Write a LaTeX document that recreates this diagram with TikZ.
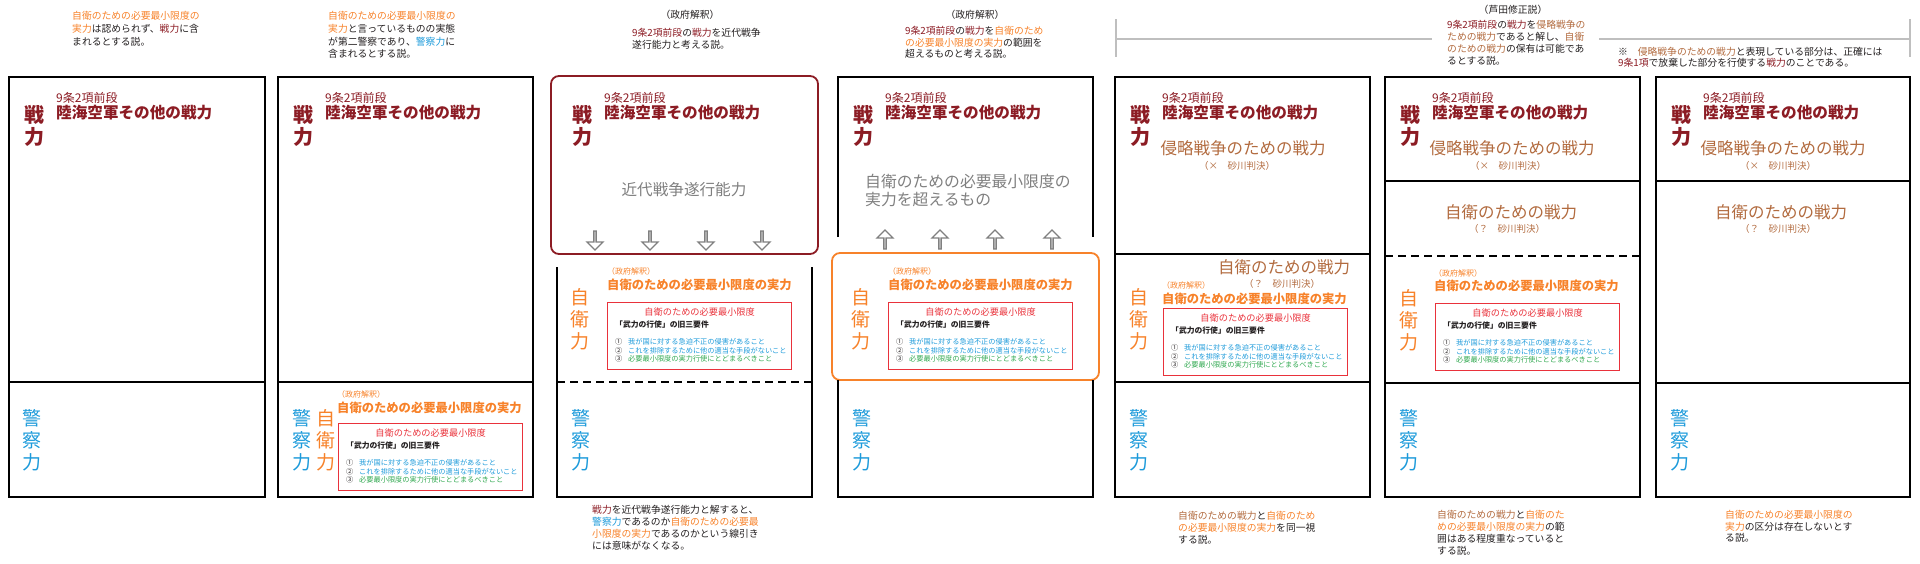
\documentclass[tikz,border=0pt]{standalone}
\usepackage{fontspec}
\setmainfont{Noto Sans CJK JP}
\usetikzlibrary{shapes.arrows}
\definecolor{ink}{HTML}{231F20}
\definecolor{senryoku}{HTML}{8C1C24}
\definecolor{jiei}{HTML}{F7822A}
\definecolor{shinryaku}{HTML}{B26B3F}
\definecolor{keisatsu}{HTML}{1C9ADA}
\definecolor{yoken}{HTML}{E9323B}
\definecolor{itemgreen}{HTML}{2FA84F}
\definecolor{memogray}{HTML}{7F7F7F}
\definecolor{arrowgray}{HTML}{808080}
\definecolor{bracketgray}{HTML}{BFBFBF}

% box with the old three requirements
\newcommand{\reqbox}[3]{%
  \node[reqframe] (#1) at (#2,#3) {};
  \node[reqtitle] (#1-t) at ([yshift=-9.5pt]#1.north) {自衛のための必要最小限度};
  \node[reqhead] (#1-h) at ([xshift=8pt,yshift=-22.5pt]#1.north west) {「武力の行使」の旧三要件};
  \node[reqitem] (#1-i) at ([xshift=8pt,yshift=-36.4pt]#1.north west) {①\hspace{5.8pt}\textcolor{keisatsu}{我が国に対する急迫不正の侵害があること}\\②\hspace{5.8pt}\textcolor{keisatsu}{これを排除するために他の適当な手段がないこと}\\③\hspace{5.8pt}\textcolor{itemgreen}{必要最小限度の実力行使にとどまるべきこと}};
}

\begin{document}
\begin{tikzpicture}[x=1pt, y=-1pt, panel/.style = {draw=black, line width=2pt}, dashdiv/.style = {draw=black, line width=2pt, dash pattern=on 8pt off 5pt}, desc/.style = {inner sep=0pt, anchor=north west, align=left, text=ink, font=\fontsize{9.8}{12}\selectfont}, deschead/.style = {inner sep=0pt, text=ink, font=\fontsize{9.8}{12}\selectfont}, art/.style = {inner sep=0pt, anchor=west, text=senryoku, font=\fontsize{12}{14}\selectfont}, rikkai/.style = {inner sep=0pt, anchor=west, text=senryoku, font=\bfseries\fontsize{15.6}{18}\selectfont}, bigred/.style = {inner sep=0pt, anchor=north, align=center, text=senryoku, font=\bfseries\fontsize{20}{22}\selectfont}, vblue/.style = {inner sep=0pt, anchor=north, align=center, text=keisatsu, font=\fontsize{19}{22}\selectfont}, vorange/.style = {inner sep=0pt, anchor=north, align=center, text=jiei, font=\fontsize{19}{22}\selectfont}, kind/.style = {inner sep=0pt, text=shinryaku, font=\fontsize{16.5}{18}\selectfont}, hanketsu/.style = {inner sep=0pt, text=shinryaku, font=\fontsize{9.5}{11}\selectfont}, gov/.style = {inner sep=0pt, anchor=west, text=jiei, font=\fontsize{8}{9}\selectfont}, jlabel/.style = {inner sep=0pt, anchor=west, text=jiei, font=\bfseries\fontsize{12.3}{14}\selectfont}, memo/.style = {inner sep=0pt, text=memogray, font=\fontsize{15.6}{18}\selectfont}, hollow/.style = {single arrow, draw=arrowgray, fill=white, line width=1.3pt, minimum height=19pt, minimum width=16pt, single arrow head extend=4pt, inner sep=0pt}, reqframe/.style = {draw=yoken, line width=1.3pt, anchor=north west, minimum width=184pt, minimum height=67pt, inner sep=0pt}, reqtitle/.style = {inner sep=0pt, text=yoken, font=\fontsize{9.2}{11}\selectfont}, reqhead/.style = {inner sep=0pt, anchor=west, text=ink, font=\bfseries\fontsize{7.8}{9}\selectfont}, reqitem/.style = {inner sep=0pt, anchor=north west, align=left, text=ink, font=\fontsize{7.2}{8.5}\selectfont}, bracketline/.style = {draw=bracketgray, line width=1.5pt}]
	\useasboundingbox (0,0) rectangle (1920,563);
	% panels
	\draw[panel] (9,77) rectangle (265,497) (9,382) -- (265,382);
	\draw[panel] (278,77) rectangle (533,497) (278,382) -- (533,382);
	\draw[senryoku, line width=1.8pt, rounded corners=8pt] (551,76) rectangle (818,254);
	\draw[panel] (557,267) -- (557,497) -- (812,497) -- (812,267);
	\draw[dashdiv] (557,382) -- (812,382);
	\draw[panel] (838,237) -- (838,77) -- (1093,77) -- (1093,237);
	\draw[jiei, line width=1.8pt, rounded corners=8pt] (832,253) rectangle (1099,380);
	\draw[panel] (838,380) -- (838,497) -- (1093,497) -- (1093,380);
	\draw[panel] (1115,77) rectangle (1370,497) (1115,254) -- (1370,254) (1115,382) -- (1370,382);
	\draw[panel] (1385,77) rectangle (1640,497) (1385,181) -- (1640,181) (1385,383) -- (1640,383);
	\draw[dashdiv] (1385,256) -- (1640,256);
	\draw[panel] (1656,77) rectangle (1910,497) (1656,181) -- (1910,181) (1656,383) -- (1910,383);
	% headings in every panel
	\foreach \n/\lx in {1/9, 2/278, 3/557, 4/838, 5/1115, 6/1385, 7/1656} {
		\node[art] (art\n) at (\lx+47,98) {9条2項前段};
		\node[rikkai] (rk\n) at (\lx+47,113) {陸海空軍その他の戦力};
		\node[bigred] (sr\n) at (\lx+25,105) {戦\\力};
		\node[vblue] (ks\n) at (\lx+23.5,409) {警\\察\\力};
	}
	% self-defence labels
	\node[vorange] (jr2) at (326,409) {自\\衛\\力};
	\node[vorange] (jr3) at (580,288) {自\\衛\\力};
	\node[vorange] (jr4) at (861,288) {自\\衛\\力};
	\node[vorange] (jr5) at (1139,288) {自\\衛\\力};
	\node[vorange] (jr6) at (1409,289) {自\\衛\\力};
	\node[gov] (gov2) at (337,394) {（政府解釈）};
	\node[jlabel] (jl2) at (337,408) {自衛のための必要最小限度の実力};
	\reqbox{req2}{338}{423}
	\node[gov] (gov3) at (607,271) {（政府解釈）};
	\node[jlabel] (jl3) at (607,285) {自衛のための必要最小限度の実力};
	\reqbox{req3}{607}{302}
	\node[gov] (gov4) at (888,271) {（政府解釈）};
	\node[jlabel] (jl4) at (888,285) {自衛のための必要最小限度の実力};
	\reqbox{req4}{888}{302}
	\node[gov] (gov5) at (1162,285) {（政府解釈）};
	\node[jlabel] (jl5) at (1162,299) {自衛のための必要最小限度の実力};
	\reqbox{req5}{1163}{308}
	\node[gov] (gov6) at (1434,273) {（政府解釈）};
	\node[jlabel] (jl6) at (1434,286) {自衛のための必要最小限度の実力};
	\reqbox{req6}{1435}{303}
	% war potential, panels 3 and 4
	\node[memo] (kindai) at (684,190) {近代戦争遂行能力};
	\node[memo, anchor=north west, align=left, font=\fontsize{15.8}{18}\selectfont] (koeru) at (865,174) {自衛のための必要最小限度の\\実力を超えるもの};
	\foreach \i/\ax in {1/595, 2/650, 3/706, 4/762} {
		\node[hollow, shape border rotate=270] (dn\i) at (\ax,240) {};
	}
	\foreach \i/\ax in {1/885, 2/940, 3/995, 4/1052} {
		\node[hollow, shape border rotate=90] (up\i) at (\ax,240) {};
	}
	% war potential, panels 5 to 7
	\node[kind] (sr5a) at (1243,148) {侵略戦争のための戦力};
	\node[hanketsu] (hk5a) at (1237,166) {（×　砂川判決）};
	\node[kind] (sr5b) at (1284,267) {自衛のための戦力};
	\node[hanketsu] (hk5b) at (1282,284) {（？　砂川判決）};
	\node[kind] (sr6a) at (1512,148) {侵略戦争のための戦力};
	\node[hanketsu] (hk6a) at (1508,166) {（×　砂川判決）};
	\node[kind] (sr6b) at (1511,212) {自衛のための戦力};
	\node[hanketsu] (hk6b) at (1507,229) {（？　砂川判決）};
	\node[kind] (sr7a) at (1783,148) {侵略戦争のための戦力};
	\node[hanketsu] (hk7a) at (1778,166) {（×　砂川判決）};
	\node[kind] (sr7b) at (1781,212) {自衛のための戦力};
	\node[hanketsu] (hk7b) at (1778,229) {（？　砂川判決）};
	% descriptions above
	\node[desc, font=\fontsize{9.8}{12.8}\selectfont] (t1) at (72,11) {\textcolor{jiei}{自衛のための必要最小限度の}\\\textcolor{jiei}{実力}は認められず、\textcolor{senryoku}{戦力}に含\\まれるとする説。};
	\node[desc, font=\fontsize{9.8}{12.8}\selectfont] (t2) at (328,11) {\textcolor{jiei}{自衛のための必要最小限度の}\\\textcolor{jiei}{実力}と言っているものの実態\\が第二警察であり、\textcolor{keisatsu}{警察力}に\\含まれるとする説。};
	\node[deschead] (h3) at (690,15) {（政府解釈）};
	\node[desc] (t3) at (632,28) {\textcolor{senryoku}{9条2項前段}の\textcolor{senryoku}{戦力}を近代戦争\\遂行能力と考える説。};
	\node[deschead] (h4) at (975,15) {（政府解釈）};
	\node[desc, font=\fontsize{9.8}{11.6}\selectfont] (t4) at (905,26) {\textcolor{senryoku}{9条2項前段}の\textcolor{senryoku}{戦力}を\textcolor{jiei}{自衛のため}\\\textcolor{jiei}{の必要最小限度の実力}の範囲を\\超えるものと考える説。};
	\node[deschead] (h5) at (1513,10) {（芦田修正説）};
	\node[desc] (ashida) at (1447,20) {\textcolor{senryoku}{9条2項前段}の\textcolor{senryoku}{戦力}を\textcolor{shinryaku}{侵略戦争の}\\\textcolor{shinryaku}{ための戦力}であると解し、\textcolor{shinryaku}{自衛}\\\textcolor{shinryaku}{のための戦力}の保有は可能であ\\るとする説。};
	\node[desc, font=\fontsize{9.8}{11}\selectfont] (chui) at (1618,47) {※　\textcolor{shinryaku}{侵略戦争のための戦力}と表現している部分は、正確には\\\textcolor{senryoku}{9条1項}で放棄した部分を行使する\textcolor{senryoku}{戦力}のことである。};
	\draw[bracketline] (1116,19) -- (1116,57) (1116,39) -- (1432,39);
	\draw[bracketline] (1599,39) -- (1910,39) (1910,19) -- (1910,57);
	% descriptions below
	\node[desc] (b3) at (592,505) {\textcolor{senryoku}{戦力}を近代戦争遂行能力と解すると、\\\textcolor{keisatsu}{警察力}であるのか\textcolor{jiei}{自衛のための必要最}\\\textcolor{jiei}{小限度の実力}であるのかという線引き\\には意味がなくなる。};
	\node[desc] (b5) at (1178,511) {\textcolor{shinryaku}{自衛のための戦力}と\textcolor{jiei}{自衛のため}\\\textcolor{jiei}{の必要最小限度の実力}を同一視\\する説。};
	\node[desc] (b6) at (1437,510) {\textcolor{shinryaku}{自衛のための戦力}と\textcolor{jiei}{自衛のた}\\\textcolor{jiei}{めの必要最小限度の実力}の範\\囲はある程度重なっていると\\する説。};
	\node[desc, font=\fontsize{9.8}{11.6}\selectfont] (b7) at (1725,510) {\textcolor{jiei}{自衛のための必要最小限度の}\\\textcolor{jiei}{実力}の区分は存在しないとす\\る説。};
\end{tikzpicture}
\end{document}
